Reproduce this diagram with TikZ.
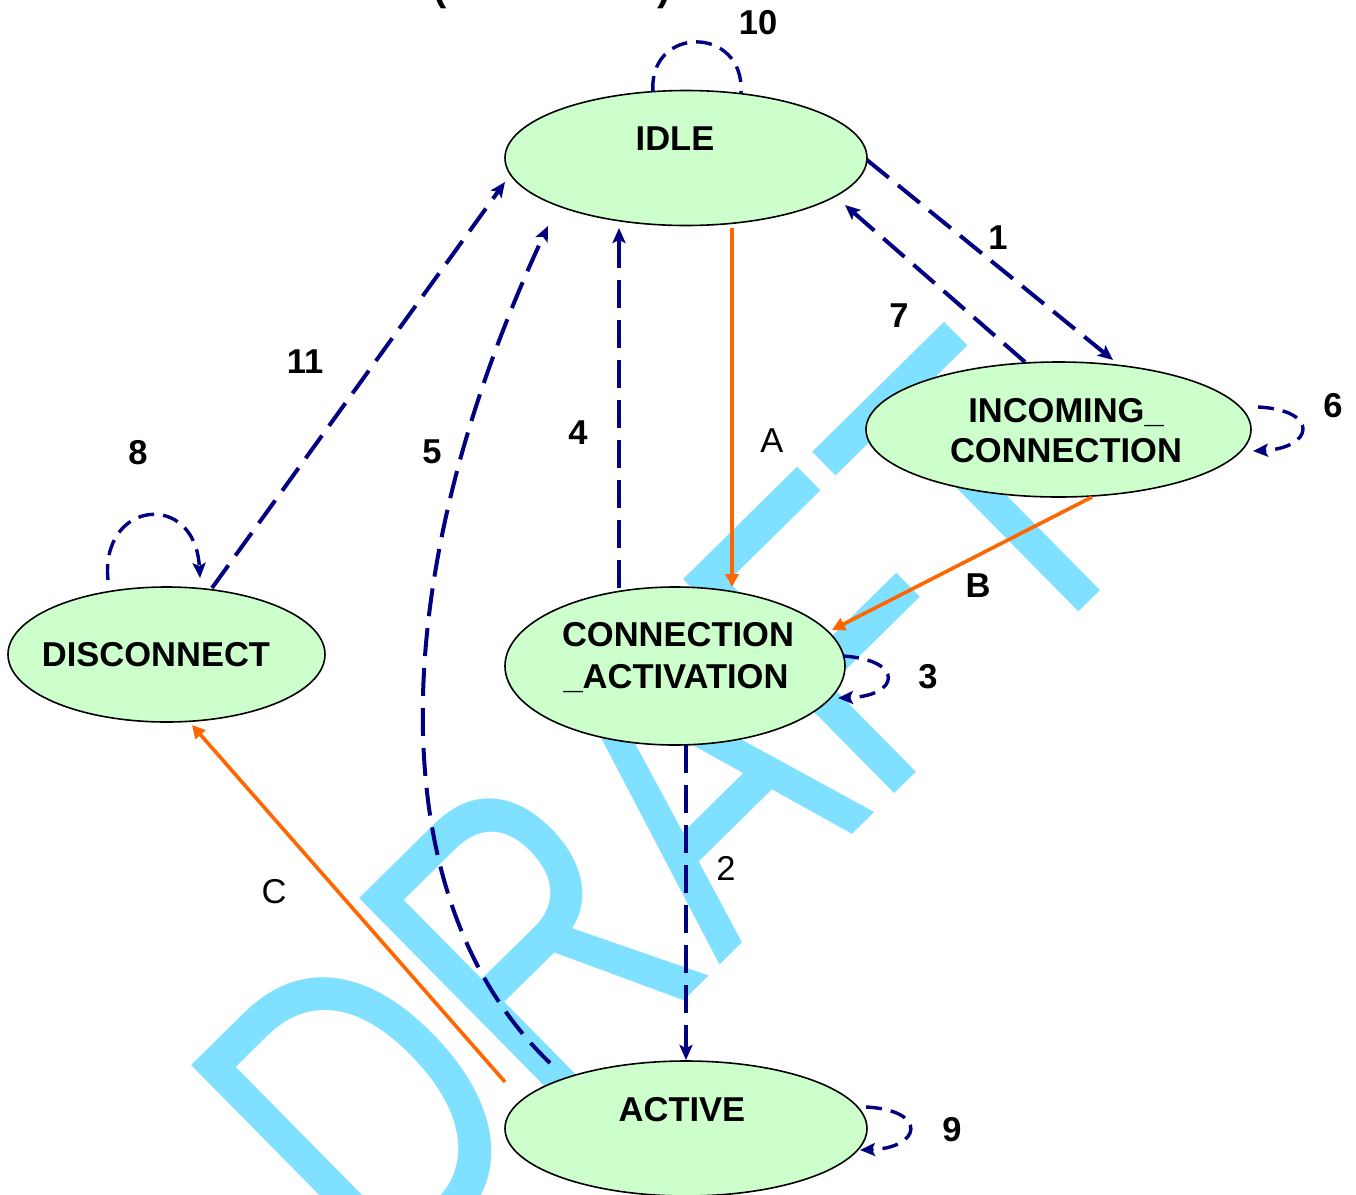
\documentclass[tikz,border=0pt]{standalone}
\usepackage{fontspec}
\setmainfont{Liberation Sans}
\usepackage{graphicx}
\usetikzlibrary{shapes.geometric,arrows.meta,calc}
\definecolor{stfill}{HTML}{CCFFCC}
\definecolor{navy}{HTML}{000080}
\definecolor{orng}{HTML}{FF6600}
\definecolor{wmark}{RGB}{128,224,255}
\begin{document}
\begin{tikzpicture}[x=0.5pt,y=-0.5pt,
  st/.style={ellipse, draw=black, line width=0.8pt, fill=stfill, inner sep=0pt, outer sep=0pt},
  lbl/.style={font=\fontsize{17.25pt}{20pt}\selectfont\bfseries, inner sep=0pt, anchor=base},
  lblr/.style={font=\fontsize{17.25pt}{20pt}\selectfont, inner sep=0pt, anchor=base},
  tr/.style={draw=navy, line width=2pt, dash pattern=on 14pt off 6pt, -{Stealth[length=7.5pt,width=6.5pt,inset=1.5pt]}},
  trloop/.style={draw=navy, line width=1.7pt, dash pattern=on 8pt off 4.5pt, -{Stealth[length=7.5pt,width=6.5pt,inset=1.5pt]}},
  trloopn/.style={draw=navy, line width=1.7pt, dash pattern=on 8pt off 4.5pt},
  orr/.style={draw=orng, line width=1.8pt, -{Triangle[length=6.5pt,width=6.5pt]}},
  wm/.style={text=wmark, inner sep=0pt, outer sep=0pt, anchor=base west, rotate=44.6, font=\fontsize{218.5pt}{220pt}\selectfont}
]
\useasboundingbox (0,0) rectangle (1356,1195);
\fill[white] (0,0) rectangle (1356,1195);
% watermark
\node[wm] (wmk) at (383,1298) {\scalebox{0.75}[1]{DRAFT}};
% cut-off title parentheses
\node[font=\fontsize{20pt}{22pt}\selectfont\bfseries, inner sep=0pt, anchor=base] (lp) at (440,0) {(};
\node[font=\fontsize{20pt}{22pt}\selectfont\bfseries, inner sep=0pt, anchor=base] (rp) at (664,0) {)};
% states
\node[st, minimum width=181pt, minimum height=67.5pt] (idle) at (686,158) {};
\node[lbl] (idleT) at (675,150) {IDLE};
\node[st, minimum width=192.5pt, minimum height=67.5pt] (inc) at (1058.5,429.5) {};
\node[lbl] (incT1) at (1066,422) {INCOMING\_};
\node[lbl] (incT2) at (1066,462) {CONNECTION};
\node[st, minimum width=158.5pt, minimum height=67.5pt] (disc) at (166.5,654.5) {};
\node[lbl] (discT) at (156,666) {DISCONNECT};
\node[st, minimum width=170pt, minimum height=79pt] (ca) at (675,666) {};
\node[lbl] (caT1) at (678,646) {CONNECTION};
\node[lbl] (caT2) at (676,688) {\_ACTIVATION};
\node[st, minimum width=181pt, minimum height=67.5pt] (act) at (686,1128.5) {};
\node[lbl] (actT) at (682,1121) {ACTIVE};
% transitions
\draw[tr] ($(idle)+(181,2)$) -- ($(inc)+(54.5,-69.5)$);
\draw[tr] ($(inc)+(-33.5,-67.5)$) -- ($(idle)+(159,47)$);
\draw[tr] ($(disc)+(45.5,-66.5)$) -- ($(idle)+(-181,24)$);
\draw[tr] ($(act)+(-136,-65.5)$) .. controls +(-170,-163) and +(-165,354) .. ($(idle)+(-138,68)$);
\draw[tr] ($(ca)+(-56,-78)$) -- ($(idle)+(-67,70)$);
\draw[orr] ($(idle)+(46,70)$) -- ($(ca)+(57,-79)$);
\draw[orr] ($(inc)+(33.5,67.5)$) -- ($(ca)+(157,-36)$);
\draw[orr] ($(act)+(-181,-46.5)$) -- ($(disc)+(25.5,70.5)$);
\draw[tr] ($(ca)+(11,79)$) -- ($(act)+(0,-68.5)$);
% self loops
\draw[trloop] ($(ca)+(168,-10)$) .. controls +(62,4) and +(62,-2) .. ($(ca)+(163,32)$);
\draw[trloop] ($(act)+(180,-21.5)$) .. controls +(62,3) and +(62,-2) .. ($(act)+(174,21.5)$);
\draw[trloop] ($(inc)+(199.5,-22.5)$) .. controls +(62,3) and +(61,-3) .. ($(inc)+(194.5,21.5)$);
\draw[trloop] ($(disc)+(-58.5,-74.5)$) .. controls +(-8,-80) and +(-5,-88) .. ($(disc)+(33.5,-76.5)$);
\draw[trloopn] ($(idle)+(-33,-66)$) .. controls +(-5,-67) and +(4,-68) .. ($(idle)+(55,-65)$);
% labels
\node[lbl] (l10) at (758,34) {10};
\node[lbl] (l1) at (998,249) {1};
\node[lbl] (l7) at (899,327) {7};
\node[lbl] (l6) at (1333,417) {6};
\node[lbl] (l11) at (305,373) {11};
\node[lbl] (l8) at (138,464) {8};
\node[lbl] (l5) at (432,463) {5};
\node[lbl] (l4) at (578,444) {4};
\node[lblr] (lA) at (772,452) {A};
\node[lbl] (lB) at (978,597) {B};
\node[lbl] (l3) at (928,688) {3};
\node[lblr] (l2) at (726,880) {2};
\node[lblr] (lC) at (274,903) {C};
\node[lbl] (l9) at (952,1141) {9};
\end{tikzpicture}
\end{document}
